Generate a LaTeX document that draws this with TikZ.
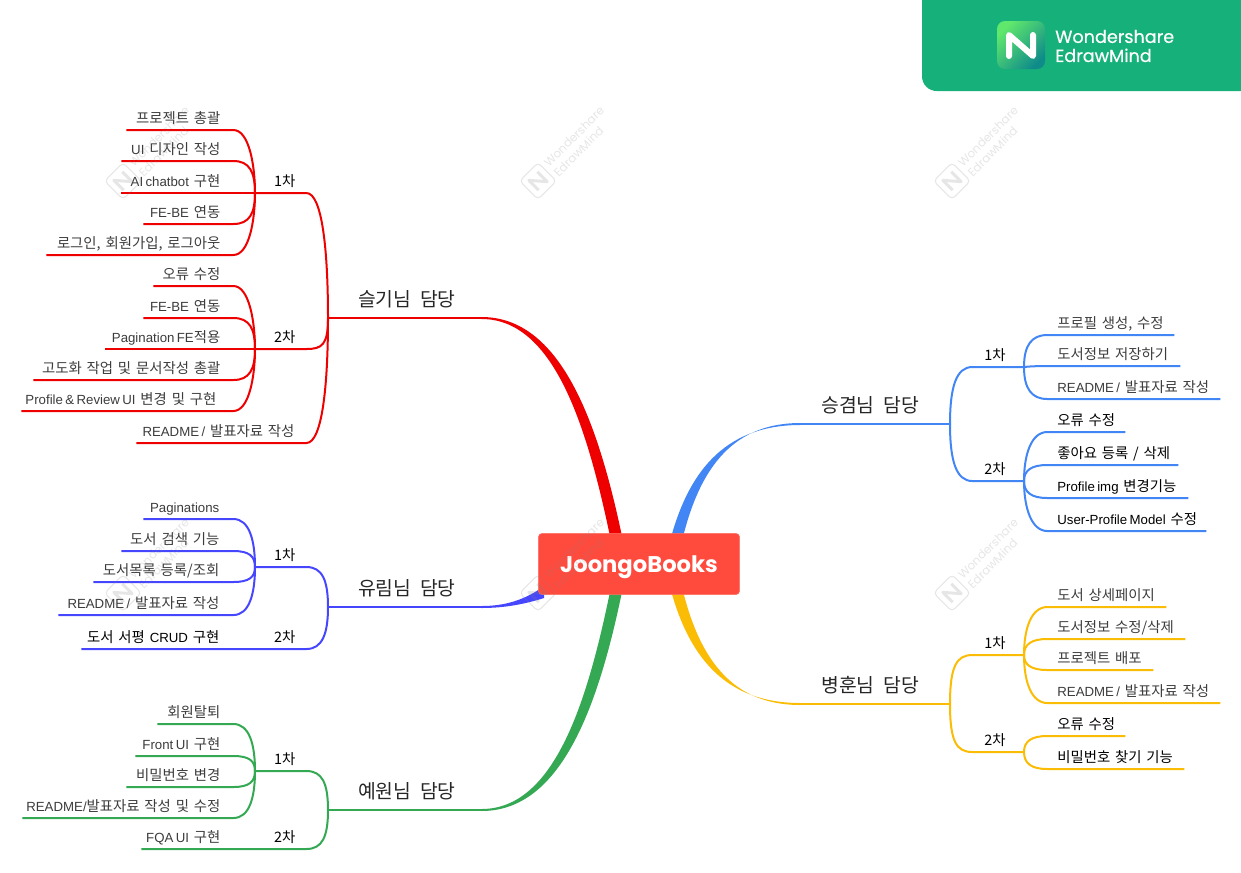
\documentclass[tikz,border=0pt]{standalone}
\usepackage{fontspec}
\setmainfont{Noto Sans CJK KR}[WordSpace=2]
\newfontfamily\brandfont{Poppins}
\newfontfamily\brandmed{Poppins}[FakeBold=0.5]
\newfontfamily\lat{Liberation Sans}[Scale=0.92]
\usetikzlibrary{calc,backgrounds}
\definecolor{cred}{RGB}{238, 0, 0}
\definecolor{cviolet}{RGB}{70, 70, 255}
\definecolor{cgreen}{RGB}{52, 168, 83}
\definecolor{cblue}{RGB}{66, 133, 244}
\definecolor{cyellow}{RGB}{251, 188, 5}
\definecolor{croot}{RGB}{255, 75, 62}
\definecolor{cbadge}{RGB}{22, 176, 122}
\definecolor{clogoa}{RGB}{96, 232, 108}
\definecolor{clogob}{RGB}{15, 140, 138}
\definecolor{ctext}{RGB}{60, 60, 60}
\newcommand{\la}[1]{{\lat\spaceskip=0.18em\relax #1}}
\hyphenpenalty=10000
\tikzset{
    leafl/.style={anchor=south east, xshift=1pt, inner xsep=0pt, inner ysep=1pt, text depth=3pt, align=right, text=ctext, font=\fontsize{10.8}{12}\selectfont},
    leafr/.style={anchor=south west, xshift=-0.5pt, inner xsep=0pt, inner ysep=1pt, text depth=3pt, align=left, text=ctext, font=\fontsize{10.8}{12}\selectfont},
    subl/.style={leafl, text=black},
    subr/.style={leafr, text=black},
    brl/.style={anchor=south west, inner xsep=0pt, inner ysep=5pt, text depth=3pt, text=black!85, font=\fontsize{14.5}{16}\selectfont},
    brr/.style={brl, anchor=south east},
    soft/.style={out distance=#1pt, in distance=12pt},
    wire/.style={line width=1.5pt}
}
\begin{document}
\begin{tikzpicture}[x=0.75pt, y=-0.75pt]
\path[use as bounding box] (0,0) rectangle (1241,872);

% Centre
\node[fill=croot, draw=croot!80!white, rounded corners=3pt, minimum width=151pt, minimum height=46pt, inner sep=0pt, text height=14pt, text depth=2pt, text=white, font=\brandfont\bfseries\fontsize{17}{20}\selectfont] (root) at (639,564) {JoongoBooks};

% Branch: red, top left
\begin{scope}[cred, wire]
    \node[brl] (a) at (357,318) {슬기님 담당};
    \coordinate (aj) at (328,318);
    \draw (aj) -- ($(a.south east)+(25,0)$);
    \begin{scope}[on background layer]
        \fill[cred] ($(a.south east)+(25,-1)$) .. controls (560,317) and (598,420) .. ($(root.north)+(-16,8)$) -- ($(root.north)+(-28,8)$) .. controls (588,430) and (555,319) .. ($(a.south east)+(25,1)$) -- cycle;
    \end{scope}
    \node[subl] (a1) at (295,193) {1차};
    \node[subl] (a2) at (295,349) {2차};
    \coordinate (a1j) at (255,193);
    \coordinate (a2j) at (255,349);
    \draw (aj) to[out=90, in=0, soft=50] ($(a1.south east)+(10,0)$) -- (a1j);
    \draw (aj) to[out=-90, in=0, soft=20] ($(a2.south east)+(10,0)$) -- (a2j);
    \foreach \n/\y/\lx/\o/\txt in {a11/130/127/90/{프로젝트 총괄}, a12/161/122/90/{\la{UI} 디자인 작성}, a13/193/122/180/{\la{AI chatbot} 구현}, a14/224/144/-90/{\la{FE-BE} 연동}, a15/255/47/-90/{로그인, 회원가입, 로그아웃}} {
        \pgfmathsetmacro\sd{min(20,abs(\y-193)*0.5)}
        \node[leafl, text width={(220-\lx)*0.75pt}] (\n) at (220,\y) {\txt};
        \draw (a1j) to[out=\o, in=0, soft=\sd] ($(\n.south east)+(12,0)$) -- (\n.south west);
    }
    \foreach \n/\y/\lx/\o/\txt in {a21/286/154/90/{오류 수정}, a22/318/144/90/{\la{FE-BE} 연동}, a23/349/106/180/{\la{Pagination FE}적용}, a24/380/34/-90/{고도화 작업 및 문서작성 총괄}} {
        \pgfmathsetmacro\sd{min(20,abs(\y-349)*0.5)}
        \node[leafl, text width={(220-\lx)*0.75pt}] (\n) at (220,\y) {\txt};
        \draw (a2j) to[out=\o, in=0, soft=\sd] ($(\n.south east)+(12,0)$) -- (\n.south west);
    }
    \node[leafl, text width={(216-22)*0.75pt}] (a25) at (216,411) {\la{Profile \& Review UI} 변경 및 구현};
    \draw (a2j) to[out=-90, in=0, soft=20] ($(a25.south east)+(16,0)$) -- (a25.south west);
    \node[leafl, text width={(294-137)*0.75pt}] (a3) at (294,443) {\la{README /} 발표자료 작성};
    \draw (aj) to[out=-90, in=0, soft=50] ($(a3.south east)+(11,0)$) -- (a3.south west);
\end{scope}

% Branch: violet, middle left
\begin{scope}[cviolet, wire]
    \node[brl] (b) at (357,607) {유림님 담당};
    \coordinate (bj) at (328,607);
    \draw (bj) -- ($(b.south east)+(25,0)$);
    \begin{scope}[on background layer]
        \fill[cviolet] ($(b.south east)+(25,-1)$) .. controls (505,606) and (525,600) .. ($(root.west)+(6,22)$) -- ($(root.west)+(6,34)$) .. controls (525,604) and (505,608) .. ($(b.south east)+(25,1)$) -- cycle;
    \end{scope}
    \node[subl] (b1) at (295,567) {1차};
    \node[subl] (b2) at (295,649) {2차};
    \coordinate (b1j) at (255,567);
    \draw (bj) to[out=90, in=0, soft=20] ($(b1.south east)+(10,0)$) -- (b1j);
    \foreach \n/\y/\lx/\o/\txt in {b11/519/144/90/{\la{Paginations}}, b12/551/122/90/{도서 검색 기능}, b13/582/94/-90/{도서목록 등록/조회}, b14/615/59/-90/{\la{README /} 발표자료 작성}} {
        \pgfmathsetmacro\sd{min(20,abs(\y-567)*0.5)}
        \node[leafl, text width={(219-\lx)*0.75pt}] (\n) at (219,\y) {\txt};
        \draw (b1j) to[out=\o, in=0, soft=\sd] ($(\n.south east)+(13,0)$) -- (\n.south west);
    }
    \node[leafl, text=black, text width={(219-82)*0.75pt}] (b21) at (219,649) {도서 서평 \la{CRUD} 구현};
    \draw (bj) to[out=-90, in=0, soft=20] ($(b2.south east)+(10,0)$) -- (b21.south west);
\end{scope}

% Branch: green, bottom left
\begin{scope}[cgreen, wire]
    \node[brl] (c) at (357,810) {예원님 담당};
    \coordinate (cj) at (328,810);
    \draw (cj) -- ($(c.south east)+(25,0)$);
    \begin{scope}[on background layer]
        \fill[cgreen] ($(c.south east)+(25,1)$) .. controls (560,811) and (598,710) .. ($(root.south)+(-16,-8)$) -- ($(root.south)+(-28,-8)$) .. controls (588,700) and (555,809) .. ($(c.south east)+(25,-1)$) -- cycle;
    \end{scope}
    \node[subl] (c1) at (295,771) {1차};
    \node[subl] (c2) at (295,849) {2차};
    \coordinate (c1j) at (255,771);
    \draw (cj) to[out=90, in=0, soft=20] ($(c1.south east)+(10,0)$) -- (c1j);
    \foreach \n/\y/\lx/\o/\txt in {c11/724/158/90/{회원탈퇴}, c12/756/136/90/{\la{Front UI} 구현}, c13/787/127/-90/{비밀번호 변경}, c14/818/23/-90/{\la{README/}발표자료 작성 및 수정}} {
        \pgfmathsetmacro\sd{min(20,abs(\y-771)*0.5)}
        \node[leafl, text width={(220-\lx)*0.75pt}] (\n) at (220,\y) {\txt};
        \draw (c1j) to[out=\o, in=0, soft=\sd] ($(\n.south east)+(12,0)$) -- (\n.south west);
    }
    \node[leafl, text width={(220-142)*0.75pt}] (c21) at (220,849) {\la{FQA UI} 구현};
    \draw (cj) to[out=-90, in=0, soft=20] ($(c2.south east)+(10,0)$) -- (c21.south west);
\end{scope}

% Branch: blue, top right
\begin{scope}[cblue, wire]
    \node[brr] (d) at (920,424) {승겸님 담당};
    \coordinate (dj) at (950,424);
    \draw (dj) -- ($(d.south west)+(-20,0)$);
    \begin{scope}[on background layer]
        \fill[cblue] ($(d.south west)+(-20,-1)$) .. controls (735,423) and (700,465) .. ($(root.north)+(43,8)$) -- ($(root.north)+(31,8)$) .. controls (690,465) and (730,425) .. ($(d.south west)+(-20,1)$) -- cycle;
    \end{scope}
    \node[subr] (d1) at (984,367) {1차};
    \node[subr] (d2) at (984,481) {2차};
    \coordinate (d1j) at (1024,367);
    \coordinate (d2j) at (1024,481);
    \draw (dj) to[out=90, in=180, soft=28] ($(d1.south west)+(-11,0)$) -- (d1j);
    \draw (dj) to[out=-90, in=180, soft=28] ($(d2.south west)+(-11,0)$) -- (d2j);
    \foreach \n/\y/\rx/\o/\txt in {d11/335/1173/90/{프로필 생성, 수정}, d12/366/1179/0/{도서정보 저장하기}, d13/399/1219/-90/{\la{README /} 발표자료 작성}} {
        \pgfmathsetmacro\sd{min(20,abs(\y-367)*0.5)}
        \node[leafr, text width={(\rx-1057)*0.75pt}] (\n) at (1057,\y) {\txt};
        \draw (d1j) to[out=\o, in=180, soft=\sd] ($(\n.south west)+(-9,0)$) -- (\n.south east);
    }
    \foreach \n/\y/\rx/\o/\txt in {d21/432/1124/90/{오류 수정}, d22/465/1177/90/{좋아요 등록 / 삭제}, d23/498/1187/-90/{\la{Profile img} 변경기능}, d24/531/1205/-90/{\la{User-Profile Model} 수정}} {
        \pgfmathsetmacro\sd{min(20,abs(\y-481)*0.5)}
        \node[leafr, text=black, text width={(\rx-1057)*0.75pt}] (\n) at (1057,\y) {\txt};
        \draw (d2j) to[out=\o, in=180, soft=\sd] ($(\n.south west)+(-9,0)$) -- (\n.south east);
    }
\end{scope}

% Branch: yellow, bottom right
\begin{scope}[cyellow, wire]
    \node[brr] (e) at (920,704) {병훈님 담당};
    \coordinate (ej) at (950,704);
    \draw (ej) -- ($(e.south west)+(-20,0)$);
    \begin{scope}[on background layer]
        \fill[cyellow] ($(e.south west)+(-20,1)$) .. controls (735,705) and (700,663) .. ($(root.south)+(43,-8)$) -- ($(root.south)+(31,-8)$) .. controls (690,663) and (730,703) .. ($(e.south west)+(-20,-1)$) -- cycle;
    \end{scope}
    \node[subr] (e1) at (984,655) {1차};
    \node[subr] (e2) at (984,752) {2차};
    \coordinate (e1j) at (1024,655);
    \coordinate (e2j) at (1024,752);
    \draw (ej) to[out=90, in=180, soft=28] ($(e1.south west)+(-11,0)$) -- (e1j);
    \draw (ej) to[out=-90, in=180, soft=28] ($(e2.south west)+(-11,0)$) -- (e2j);
    \foreach \n/\y/\rx/\o/\txt in {e11/607/1165/90/{도서 상세페이지}, e12/639/1184/90/{도서정보 수정/삭제}, e13/670/1152/-90/{프로젝트 배포}, e14/703/1219/-90/{\la{README /} 발표자료 작성}} {
        \pgfmathsetmacro\sd{min(20,abs(\y-655)*0.5)}
        \node[leafr, text width={(\rx-1057)*0.75pt}] (\n) at (1057,\y) {\txt};
        \draw (e1j) to[out=\o, in=180, soft=\sd] ($(\n.south west)+(-9,0)$) -- (\n.south east);
    }
    \foreach \n/\y/\rx/\o/\txt in {e21/736/1124/90/{오류 수정}, e22/769/1183/-90/{비밀번호 찾기 기능}} {
        \pgfmathsetmacro\sd{min(20,abs(\y-752)*0.5)}
        \node[leafr, text=black, text width={(\rx-1057)*0.75pt}] (\n) at (1057,\y) {\txt};
        \draw (e2j) to[out=\o, in=180, soft=\sd] ($(\n.south west)+(-9,0)$) -- (\n.south east);
    }
\end{scope}

% Badge
\fill[cbadge] (1241,0) -- (922,0) [rounded corners=11pt] -- (922,91) [sharp corners] -- (1241,91) -- cycle;
\node[minimum size=36pt, inner sep=0pt, rounded corners=6pt, top color=clogoa, bottom color=clogob, shading angle=45] (logo) at (1021,45) {};
\draw[white, line width=4.5pt, line cap=round, line join=round] ($(logo)+(-12,11)$) -- ($(logo)+(-12,-10)$) -- ($(logo)+(12,11)$) -- ($(logo)+(12,-10)$);
\node[anchor=west, inner sep=0pt, align=left, text=white, font=\brandmed\fontsize{13.2}{14.3}\selectfont] (brand) at (1055,46) {Wondershare\\EdrawMind};

% Watermarks
\foreach \i/\x/\y in {1/123/181, 2/538/181, 3/952/181, 4/123/593, 5/538/593, 6/952/593} {
    \begin{scope}[shift={(\x,\y)}, rotate=45, gray, opacity=0.2]
        \draw[line width=0.8pt, rounded corners=3pt] (-13,-13) rectangle (13,13);
        \draw[line width=2.2pt, line join=round] (-6,7) -- (-6,-7) -- (6,7) -- (6,-7);
        \node[anchor=west, inner sep=0pt, transform shape, align=left, font=\brandfont\fontsize{8.8}{10.5}\selectfont] (wm\i) at (17,1) {Wondershare\\EdrawMind};
    \end{scope}
}
\end{tikzpicture}
\end{document}
